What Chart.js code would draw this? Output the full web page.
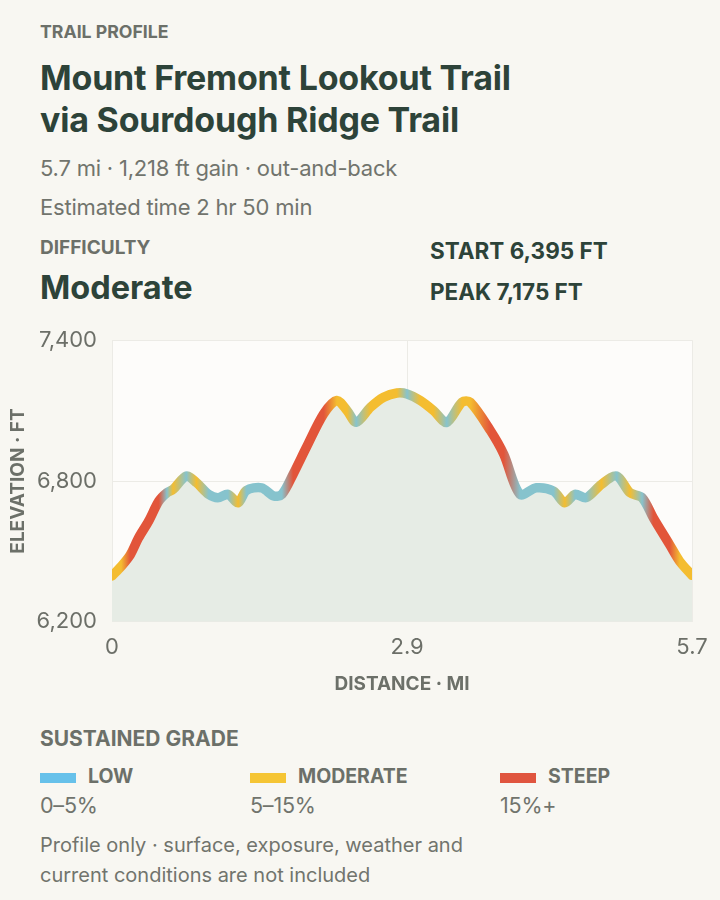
<!DOCTYPE html>
<html>
<head>
<meta charset="utf-8">
<script src="https://cdn.jsdelivr.net/npm/chart.js@4.4.1/dist/chart.umd.min.js"></script>
<style>
  html, body { margin: 0; padding: 0; background: #f8f7f2; }
  body { width: 720px; height: 900px; position: relative; font-family: Inter, "Noto Sans", sans-serif; overflow: hidden; }
  .abs { position: absolute; white-space: nowrap; line-height: 1.2; }
  .kicker { font-size: 17.7px; font-weight: 700; color: #6c7069; }
  .title { font-size: 34px; font-weight: 700; color: #2d4339; line-height: 42px; letter-spacing: -0.2px; }
  .sub { font-size: 22px; color: #71746d; letter-spacing: -0.2px; }
  .big { font-size: 32.5px; font-weight: 700; color: #2d4339; }
  .stat { font-size: 22.5px; font-weight: 700; color: #2d4339; }
  .legLabel { font-size: 19.5px; font-weight: 700; color: #6c7069; }
  .sw { position: absolute; width: 36px; height: 10px; }
  #chartBox { position: absolute; left: 0; top: 312px; width: 720px; height: 384px; }
</style>
</head>
<body>
<div class="abs kicker" style="left:40px; top:20.5px;">TRAIL PROFILE</div>
<div class="abs title" style="left:40px; top:57px;">Mount Fremont Lookout Trail<br>via Sourdough Ridge Trail</div>
<div class="abs sub" style="left:40px; top:155px;">5.7 mi · 1,218 ft gain · out-and-back</div>
<div class="abs sub" style="left:40px; top:194px;">Estimated time 2 hr 50 min</div>
<div class="abs kicker" style="left:40px; top:236.5px; font-size:19px;">DIFFICULTY</div>
<div class="abs big" style="left:40px; top:267.5px;">Moderate</div>
<div class="abs stat" style="left:430px; top:236.5px;">START 6,395 FT</div>
<div class="abs stat" style="left:430px; top:277.5px;">PEAK 7,175 FT</div>

<div id="chartBox"><canvas id="profile" width="720" height="384"></canvas></div>

<div class="abs kicker" style="left:40px; top:725.5px; font-size:21px;">SUSTAINED GRADE</div>
<div class="sw" style="left:40px; top:773px; background:#67c1ea;"></div>
<div class="abs legLabel" style="left:88px; top:765px;">LOW</div>
<div class="abs sub" style="left:40px; top:793px; font-size:21.5px;">0–5%</div>
<div class="sw" style="left:250px; top:773px; background:#f5c534;"></div>
<div class="abs legLabel" style="left:298px; top:765px;">MODERATE</div>
<div class="abs sub" style="left:250px; top:793px; font-size:21.5px;">5–15%</div>
<div class="sw" style="left:500px; top:773px; background:#e0553f;"></div>
<div class="abs legLabel" style="left:548px; top:765px;">STEEP</div>
<div class="abs sub" style="left:500px; top:793px; font-size:21.5px;">15%+</div>
<div class="abs sub" style="left:40px; top:830px; line-height:30px; font-size:20px; letter-spacing:0;">Profile only · surface, exposure, weather and<br>current conditions are not included</div>

<script>
// distance along trail (mi), elevation (ft) and grade class at each point
var miles = [0, 0.09, 0.18, 0.26, 0.36, 0.46, 0.54, 0.60, 0.73, 0.83, 0.95, 1.04, 1.14, 1.24, 1.32, 1.47, 1.59, 1.67,
             1.78, 1.91, 2.08, 2.21, 2.31, 2.40, 2.54, 2.67, 2.80, 2.90, 3.03, 3.16, 3.29, 3.44, 3.52,
             3.72, 3.85, 4.01, 4.17, 4.34, 4.45, 4.55, 4.66, 4.81, 4.96, 5.09, 5.21, 5.32, 5.48, 5.58, 5.70];
var elev  = [6395, 6436, 6486, 6557, 6629, 6714, 6750, 6764, 6821, 6793, 6743, 6729, 6743, 6707, 6760, 6771, 6736, 6743,
             6829, 6943, 7086, 7143, 7100, 7050, 7114, 7157, 7175, 7171, 7143, 7100, 7050, 7136, 7136,
             7014, 6914, 6743, 6771, 6757, 6707, 6743, 6729, 6786, 6821, 6750, 6729, 6643, 6529, 6457, 6398];
// L = low 0-5%, M = moderate 5-15%, S = steep 15%+
var grade = ['M', 'M', 'S', 'S', 'S', 'S', 'L', 'M', 'L', 'M', 'L', 'L', 'L', 'M', 'L', 'L', 'L', 'L',
             'S', 'S', 'S', 'M', 'M', 'L', 'M', 'M', 'M', 'L', 'M', 'M', 'L', 'M', 'M',
             'S', 'S', 'L', 'L', 'L', 'M', 'L', 'L', 'M', 'L', 'M', 'L', 'S', 'S', 'M', 'M'];
var xTicks = [0, 2.9, 5.7];
var yTicks = [6200, 6800, 7400];

var gradeColors = { L: '#86c3cd', M: '#f4bd30', S: '#e2553a' };

function lineGradient(context){
	var chart = context.chart;
	var area = chart.chartArea;
	if(!area) return gradeColors.M;
	var xs = chart.scales.x;
	var g = chart.ctx.createLinearGradient(area.left, 0, area.right, 0);
	var w = area.right - area.left;
	for(var i = 0; i < miles.length; i++){
		var f = (xs.getPixelForValue(miles[i]) - area.left) / w;
		g.addColorStop(Math.max(0, Math.min(1, f)), gradeColors[grade[i]]);
	}
	return g;
}

var plotBg = {
	id: 'plotBg',
	beforeDraw: function(chart){
		var a = chart.chartArea, ctx = chart.ctx;
		ctx.save();
		ctx.fillStyle = '#fdfcfa';
		ctx.fillRect(a.left, a.top, a.right - a.left, a.bottom - a.top);
		ctx.restore();
	}
};

var points = [];
for(var i = 0; i < miles.length; i++) points.push({x: miles[i], y: elev[i]});

new Chart(document.getElementById('profile'), {
	type: 'line',
	data: {
		datasets: [{
			data: points,
			borderColor: lineGradient,
			borderWidth: 9.5,
			borderCapStyle: 'round',
			borderJoinStyle: 'round',
			tension: 0.3,
			pointRadius: 0,
			fill: 'start',
			backgroundColor: '#e6ece5'
		}]
	},
	options: {
		responsive: false,
		animation: false,
		layout: { padding: { left: 0, right: 28, top: 10, bottom: 0 } },
		plugins: { legend: { display: false }, tooltip: { enabled: false } },
		scales: {
			x: {
				type: 'linear', min: 0, max: 5.7,
				afterBuildTicks: function(s){ s.ticks = xTicks.map(function(v){ return {value: v}; }); },
				ticks: { font: { family: 'Inter', size: 22 }, color: '#6c6f68', padding: 12, maxRotation: 0,
					callback: function(v){ return String(v); } },
				grid: { color: '#ecebe6', drawTicks: false },
				border: { display: false },
				title: { display: true, text: 'DISTANCE · MI', color: '#6c7069',
					font: { family: 'Inter', size: 19, weight: '700' }, padding: { top: 1, bottom: 0 } }
			},
			y: {
				min: 6200, max: 7400,
				afterBuildTicks: function(s){ s.ticks = yTicks.map(function(v){ return {value: v}; }); },
				afterFit: function(s){ s.width = 112; },
				ticks: { font: { family: 'Inter', size: 22 }, color: '#6c6f68', padding: 15,
					callback: function(v){ return v.toLocaleString('en-US'); } },
				grid: { color: '#ecebe6', drawTicks: false },
				border: { display: false },
				title: { display: true, text: 'ELEVATION · FT', color: '#6c7069',
					font: { family: 'Inter', size: 19, weight: '700' }, padding: { top: 7, bottom: 0 } }
			}
		}
	},
	plugins: [plotBg]
});
</script>
</body>
</html>
